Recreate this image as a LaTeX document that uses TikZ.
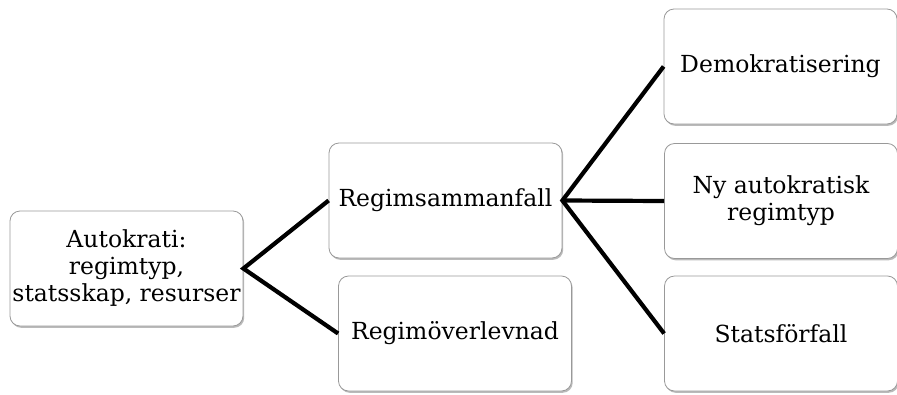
\documentclass[tikz,border=0pt]{standalone}
\usepackage{fontspec}
\setmainfont{DejaVu Serif}
\usepackage{tikz}
\usetikzlibrary{shapes}
\usetikzlibrary{shadows}
\usetikzlibrary{positioning}

\tikzset{
  outcome/.style={draw=black!40, line width=0.8pt, fill=white, rounded corners=10pt,
    minimum width=233pt, minimum height=115pt, align=center, inner sep=2pt,
    font=\fontsize{23.5}{27}\selectfont,
    drop shadow={shadow xshift=1.2pt, shadow yshift=-1.8pt, fill=black!45, opacity=.6}},
  branch/.style={line width=4.2pt}
}

\begin{document}
\begin{tikzpicture}[x=1pt, y=-1pt]
  \useasboundingbox (0,0) rectangle (897,394);
  % boxes
  \node[outcome] (autokrati) at (126.5,268.5) {Autokrati:\\regimtyp,\\statsskap, resurser};
  \node[outcome] (sammanfall) at (445.5,200.5) {Regimsammanfall};
  \node[outcome] (overlevnad) at (455,333.5) {Regimöverlevnad};
  \node[outcome] (demokrati) at (780.5,66.5) {Demokratisering};
  \node[outcome] (nyregim) at (781,201) {Ny autokratisk\\regimtyp};
  \node[outcome] (forfall) at (781,333.5) {Statsförfall};
  % branches
  \draw[branch] (sammanfall.west) -- (autokrati.east) -- (overlevnad.west);
  \draw[branch] (demokrati.west) -- (sammanfall.east) -- (forfall.west);
  \draw[branch] (sammanfall.east) -- (nyregim.west);
\end{tikzpicture}
\end{document}
